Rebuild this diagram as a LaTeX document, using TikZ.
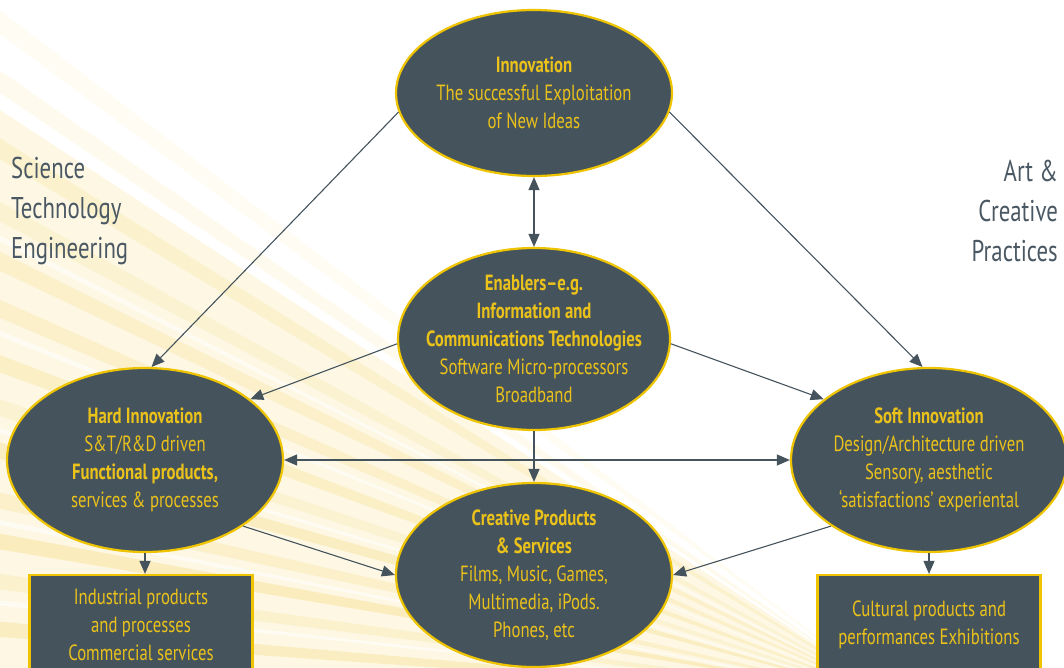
\documentclass[tikz,border=0pt]{standalone}
\usepackage{fontspec}
\setmainfont{PT Sans}[FakeStretch=0.76]
\usepackage{tikz}
\usetikzlibrary{shapes}
\usetikzlibrary{arrows.meta}
\usetikzlibrary{positioning}

\definecolor{slate}{HTML}{45535D}
\definecolor{gold}{HTML}{EEC300}
\definecolor{goldtext}{HTML}{EBC21A}
\definecolor{raygold}{HTML}{F6DF8E}
\definecolor{sidegray}{HTML}{4A5863}

\tikzset{
  oval/.style={ellipse, draw=gold, line width=2.2pt, fill=slate, text=goldtext,
    align=center, inner xsep=-40pt, inner ysep=-25pt, minimum width=276pt, minimum height=184pt,
    font=\fontsize{22}{28}\selectfont},
  outbox/.style={rectangle, draw=gold, line width=2.2pt, fill=slate, text=goldtext,
    align=center, minimum width=223pt, minimum height=100pt,
    font=\fontsize{22}{28}\selectfont},
  side/.style={text=sidegray, inner sep=0pt, font=\fontsize{30}{40}\selectfont},
  link/.style={draw=slate, line width=1.1pt, -{Triangle[length=13pt,width=11pt]}},
  twolink/.style={link, {Triangle[length=13pt,width=11pt]}-{Triangle[length=13pt,width=11pt]}},
}

\begin{document}
\begin{tikzpicture}[x=1pt, y=-1pt, node distance=246pt]
        \useasboundingbox (0,0) rectangle (1064,668);

        % light rays behind the left half
        \coordinate (focus) at (900,700);
        \fill [raygold, opacity=0.25] (focus) -- (0,110) -- (0,668) -- cycle;
        \foreach \a/\o in {184/0.4, 187/0.25, 189.5/0.45, 192/0.3, 195/0.4, 197.5/0.2,
                           200/0.35, 203/0.3, 205.5/0.3, 208/0.2, 211/0.25, 214/0.15, 216.5/0.1}
          \fill [raygold, opacity=\o] (focus) -- ++(\a:1300) -- ++(\a+90:22) -- cycle;
        \foreach \a in {186, 191, 196.5, 202, 207}
          \fill [white, opacity=0.6] (focus) -- ++(\a:1300) -- ++(\a+90:7) -- cycle;

        \node [oval, minimum height=166pt] (innov) at (534,93)
          {\textbf{Innovation}\\The successful Exploitation\\of New Ideas};
        \node [oval, below of=innov, minimum width=272pt, minimum height=182pt] (enab)
          {\textbf{Enablers--e.g.}\\\textbf{Information and}\\\textbf{Communications Technologies}\\Software Micro-processors\\Broadband};
        \node [oval, below of=enab, node distance=236pt] (creat)
          {\textbf{Creative Products}\\\textbf{\& Services}\\Films, Music, Games,\\Multimedia, iPods.\\Phones, etc};
        \node [oval] (hard) at (145,460)
          {\textbf{Hard Innovation}\\S\&T/R\&D driven\\\textbf{Functional products,}\\services \& processes};
        \node [oval, right of=hard, node distance=784pt] (soft)
          {\textbf{Soft Innovation}\\Design/Architecture driven\\Sensory, aesthetic\\`satisfactions' experiental};

        \node [outbox] (hardout) at (141,625)
          {Industrial products\\and processes\\Commercial services};
        \node [outbox] (softout) at (929,625)
          {Cultural products and\\performances Exhibitions};

        \node [side, anchor=west, align=left] (ste) at (11,211)
          {Science\\Technology\\Engineering};
        \node [side, anchor=east, align=right] (art) at (1058,211)
          {Art \&\\Creative\\Practices};

        \draw [link] (innov.188) -- (hard.86);
        \draw [link] (innov.352) -- (soft.94);
        \draw [twolink] (innov.south) -- (enab.north);
        \draw [link] (enab.182) -- (hard.30);
        \draw [link] (enab.358) -- (soft.150);
        \draw [link] (enab.south) -- (creat.north);
        \draw [twolink] (hard.east) -- (soft.west);
        \draw [link] (hard.326) -- (creat.west);
        \draw [link] (soft.214) -- (creat.east);
        \draw [link] (hard.south) -- (hard.south |- hardout.north);
        \draw [link] (soft.south) -- (soft.south |- softout.north);
\end{tikzpicture}
\end{document}
